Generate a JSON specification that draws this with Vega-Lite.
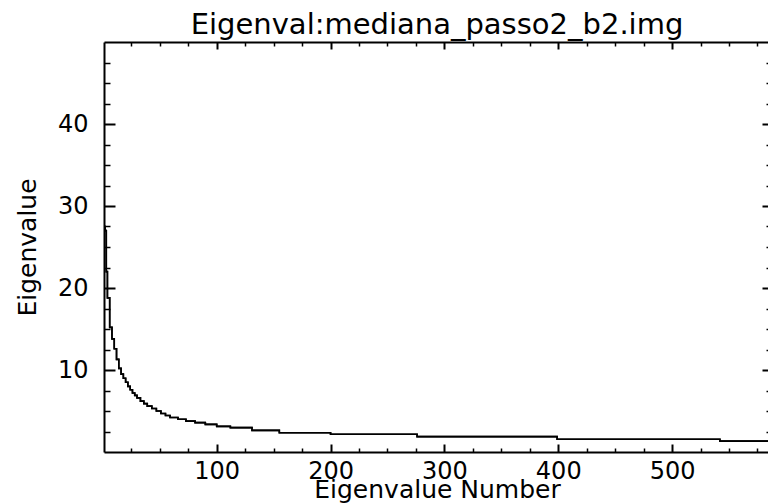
{
  "$schema": "https://vega.github.io/schema/vega-lite/v6.json",
  "width": 666,
  "height": 410,
  "autosize": {"type": "none"},
  "padding": {"left": 104, "top": 42, "right": -2, "bottom": 52},
  "background": "white",
  "title": {
    "text": "Eigenval:mediana_passo2_b2.img",
    "font": "DejaVu Sans",
    "fontSize": 29,
    "fontWeight": "normal",
    "color": "black",
    "anchor": "middle",
    "frame": "group",
    "baseline": "alphabetic",
    "offset": -22
  },
  "data": {
    "values": [
      {"n": 1, "v": 27.5},
      {"n": 2, "v": 27.0},
      {"n": 3, "v": 22.0},
      {"n": 4, "v": 18.8},
      {"n": 6, "v": 15.2},
      {"n": 8, "v": 13.8},
      {"n": 10, "v": 12.6},
      {"n": 12, "v": 11.3},
      {"n": 14, "v": 10.2},
      {"n": 16, "v": 9.5},
      {"n": 18, "v": 9.0},
      {"n": 20, "v": 8.5},
      {"n": 22, "v": 8.0},
      {"n": 24, "v": 7.6},
      {"n": 26, "v": 7.2},
      {"n": 28, "v": 6.9},
      {"n": 30, "v": 6.6},
      {"n": 33, "v": 6.2},
      {"n": 36, "v": 5.9},
      {"n": 39, "v": 5.6},
      {"n": 43, "v": 5.3},
      {"n": 47, "v": 5.0},
      {"n": 51, "v": 4.7},
      {"n": 55, "v": 4.45},
      {"n": 59, "v": 4.2},
      {"n": 66, "v": 4.0},
      {"n": 73, "v": 3.77},
      {"n": 81, "v": 3.58},
      {"n": 90, "v": 3.37},
      {"n": 100, "v": 3.12},
      {"n": 112, "v": 2.97},
      {"n": 131, "v": 2.64},
      {"n": 155, "v": 2.35},
      {"n": 200, "v": 2.17},
      {"n": 276, "v": 1.87},
      {"n": 399, "v": 1.56},
      {"n": 542, "v": 1.33},
      {"n": 586, "v": 1.33}
    ]
  },
  "config": {
    "view": {"stroke": null},
    "axis": {
      "grid": false,
      "domainColor": "black",
      "domainWidth": 2,
      "tickColor": "black",
      "labelColor": "black",
      "titleColor": "black",
      "labelFont": "DejaVu Sans",
      "titleFont": "DejaVu Sans",
      "labelFontSize": 24,
      "titleFontSize": 25,
      "titleFontWeight": "normal",
      "labelOverlap": false,
      "labelFlush": false,
      "labelBound": false
    }
  },
  "resolve": {"axis": {"x": "independent", "y": "independent"}},
  "layer": [
    {
      "mark": {"type": "line", "interpolate": "step-after", "color": "black", "strokeWidth": 1.6, "clip": true},
      "encoding": {
        "x": {
          "field": "n",
          "type": "quantitative",
          "scale": {"domain": [1, 586], "nice": false, "zero": false},
          "axis": {
            "orient": "bottom",
            "title": "Eigenvalue Number",
            "values": [25, 50, 75, 100, 125, 150, 175, 200, 225, 250, 275, 300, 325, 350, 375, 400, 425, 450, 475, 500, 525, 550, 575],
            "labelExpr": "datum.value % 100 === 0 ? datum.label : ''",
            "tickSize": {"condition": {"test": "datum.value % 100 === 0", "value": -8}, "value": -4},
            "tickWidth": {"condition": {"test": "datum.value % 100 === 0", "value": 2}, "value": 1.5},
            "labelPadding": 15,
            "titleY": 45,
            "titleBaseline": "alphabetic"
          }
        },
        "y": {
          "field": "v",
          "type": "quantitative",
          "scale": {"domain": [0, 50], "nice": false},
          "axis": {
            "orient": "left",
            "title": "Eigenvalue",
            "values": [2.5, 5, 7.5, 10, 12.5, 15, 17.5, 20, 22.5, 25, 27.5, 30, 32.5, 35, 37.5, 40, 42.5, 45, 47.5],
            "labelExpr": "datum.value % 10 === 0 ? datum.label : ''",
            "tickSize": {"condition": {"test": "datum.value % 10 === 0", "value": -11}, "value": -6},
            "tickWidth": {"condition": {"test": "datum.value % 10 === 0", "value": 2}, "value": 1.5},
            "labelPadding": 27,
            "titleX": -69,
            "titleBaseline": "alphabetic"
          }
        }
      }
    },
    {
      "mark": {"type": "line", "interpolate": "step-after", "color": "black", "strokeWidth": 1.6, "clip": true},
      "encoding": {
        "x": {
          "field": "n",
          "type": "quantitative",
          "axis": {
            "orient": "top",
            "title": null,
            "labels": false,
            "values": [25, 50, 75, 100, 125, 150, 175, 200, 225, 250, 275, 300, 325, 350, 375, 400, 425, 450, 475, 500, 525, 550, 575],
            "tickSize": {"condition": {"test": "datum.value % 100 === 0", "value": -7}, "value": -4},
            "tickWidth": {"condition": {"test": "datum.value % 100 === 0", "value": 2}, "value": 1.5}
          }
        },
        "y": {
          "field": "v",
          "type": "quantitative",
          "axis": {
            "orient": "right",
            "title": null,
            "labels": false,
            "domain": false,
            "values": [2.5, 5, 7.5, 10, 12.5, 15, 17.5, 20, 22.5, 25, 27.5, 30, 32.5, 35, 37.5, 40, 42.5, 45, 47.5],
            "tickSize": {"condition": {"test": "datum.value % 10 === 0", "value": -8}, "value": -4},
            "tickWidth": {"condition": {"test": "datum.value % 10 === 0", "value": 2}, "value": 1.5}
          }
        }
      }
    }
  ]
}
